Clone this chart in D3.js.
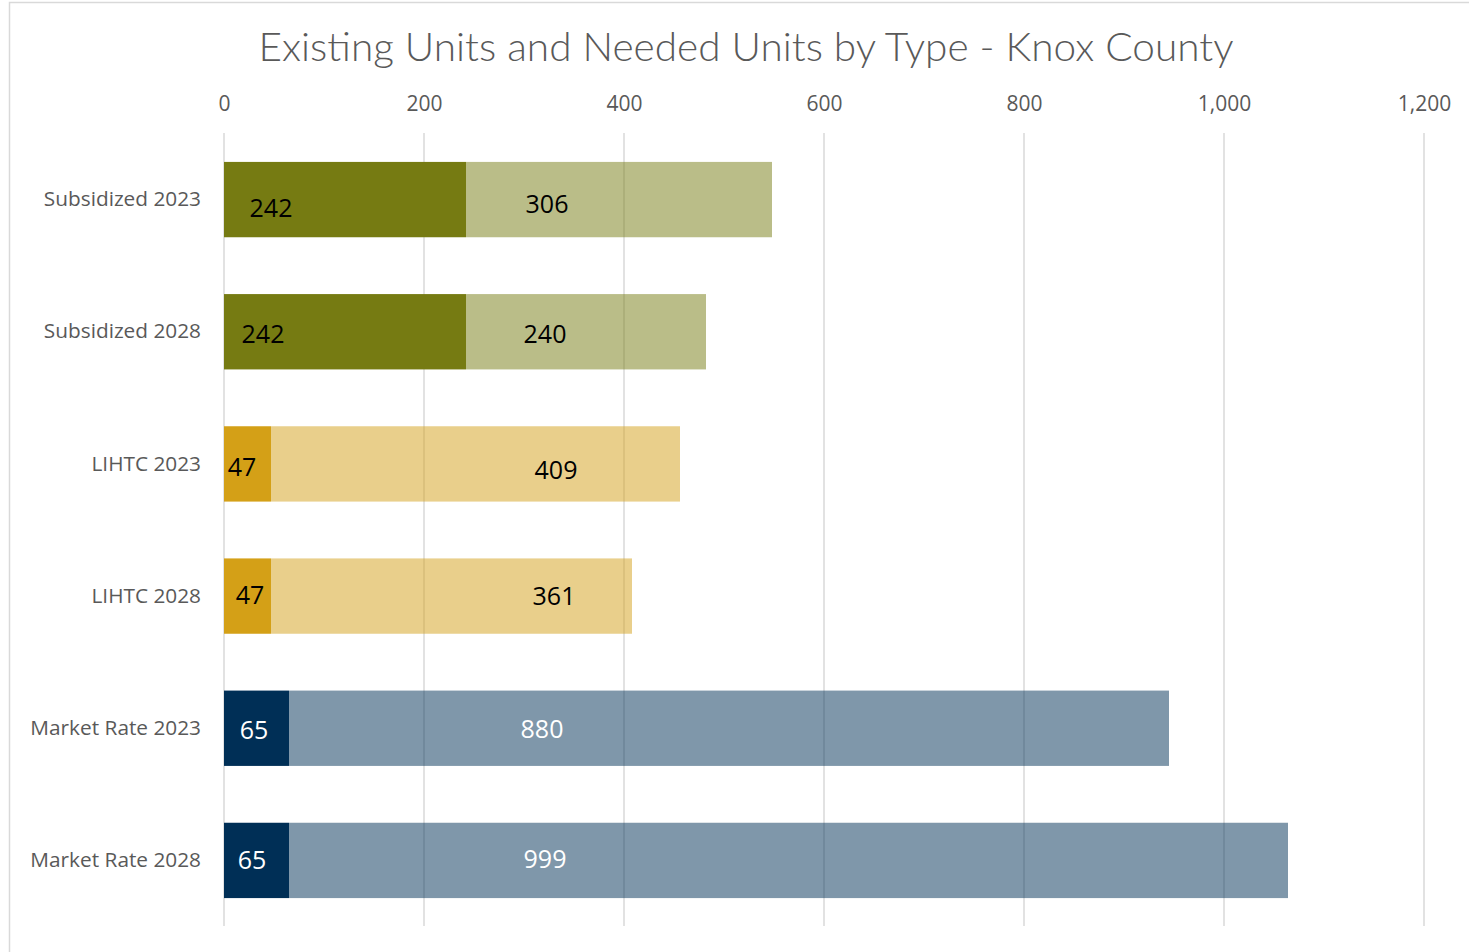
<!DOCTYPE html>
<html><head><meta charset="utf-8">
<script src="https://cdn.jsdelivr.net/npm/d3@7"></script>
<style>
html,body{margin:0;padding:0;background:#fff;}
svg{display:block;}
</style></head>
<body>
<svg id="chart" width="1469" height="952"></svg>
<script>
// ---- data ----
const categories = ["Subsidized 2023","Subsidized 2028","LIHTC 2023","LIHTC 2028","Market Rate 2023","Market Rate 2028"];
const existingUnits = [242, 242, 47, 47, 65, 65];
const neededUnits = [306, 240, 409, 361, 880, 999];
const tickValues = [0, 200, 400, 600, 800, 1000, 1200];
const chartTitle = "Existing Units and Needed Units by Type - Knox County";

// ---- layout / style (not data) ----
const baseColors = ["#767B12","#767B12","#D4A017","#D4A017","#002F56","#002F56"];
const neededTextColors = ["#000","#000","#000","#000","#fff","#fff"];
const existingTextColors = ["#000","#000","#000","#000","#fff","#fff"];
// manual label anchors (in value units) as placed in the original
const existingLabelAt = [47, 39, 18, 26, 30, 28];
const neededLabelAt = [323, 321, 332, 330, 318, 321];
const existingLabelDy = [8, 2, 3, -1, 2, 0];
const neededLabelDy = [4, 2, 6, 0, 1, -1];

const svg = d3.select("#chart");

// frame
svg.append("rect").attr("x",9.5).attr("y",2.5).attr("width",1600).attr("height",1200)
  .attr("fill","#fff").attr("stroke","#d9d9d9").attr("stroke-width",1.5);

const x = d3.scaleLinear().domain([0,1200]).range([224,1424]);
const y = d3.scaleBand().domain(categories).range([133.5, 926.5]).paddingInner(0.43).paddingOuter(0.215);

// title
svg.append("text").attr("x",746).attr("y",61)
  .attr("text-anchor","middle")
  .attr("font-family","Lato, 'Open Sans', sans-serif").attr("font-weight",300)
  .attr("font-size",39).attr("fill","#595959")
  .attr("textLength",975).attr("lengthAdjust","spacingAndGlyphs")
  .text(chartTitle);

// gridlines
const grid = svg.append("g");
grid.selectAll("line").data(tickValues).join("line")
  .attr("x1",d=>x(d)).attr("x2",d=>x(d))
  .attr("y1",133).attr("y2",926)
  .attr("stroke","#d9d9d9").attr("stroke-width",1.5);

// top axis
const axis = d3.axisTop(x).tickValues(tickValues).tickSize(0).tickPadding(0)
  .tickFormat(d3.format(","));
const ax = svg.append("g").attr("transform","translate(0,111)").call(axis);
ax.select(".domain").remove();
ax.selectAll("text").attr("font-family","'Open Sans', 'Noto Sans', sans-serif")
  .attr("font-size",21).attr("fill","#595959");

// category axis
const yAxis = d3.axisLeft(y).tickSize(0).tickPadding(23);
const ay = svg.append("g").attr("transform","translate(224,0)").call(yAxis);
ay.select(".domain").remove();
ay.selectAll("text").attr("font-family","'Open Sans', 'Noto Sans', sans-serif")
  .attr("font-size",20.8).attr("fill","#595959");

const rows = categories.map((c,i)=>({c, i, e:existingUnits[i], n:neededUnits[i]}));

// bars
const bars = svg.append("g");
bars.selectAll("rect.ex").data(rows).join("rect").attr("class","ex")
  .attr("x",d=>x(0)).attr("y",d=>y(d.c))
  .attr("width",d=>x(d.e)-x(0)).attr("height",y.bandwidth())
  .attr("fill",d=>baseColors[d.i]);
bars.selectAll("rect.ne").data(rows).join("rect").attr("class","ne")
  .attr("x",d=>x(d.e)).attr("y",d=>y(d.c))
  .attr("width",d=>x(d.e+d.n)-x(d.e)).attr("height",y.bandwidth())
  .attr("fill",d=>baseColors[d.i]).attr("fill-opacity",0.5);

// labels
const lab = svg.append("g").attr("font-family","'Open Sans', 'Noto Sans', sans-serif")
  .attr("font-size",25).attr("text-anchor","middle");
lab.selectAll("text.ex").data(rows).join("text").attr("class","ex")
  .attr("x",d=>x(existingLabelAt[d.i]))
  .attr("y",d=>y(d.c)+y.bandwidth()/2+existingLabelDy[d.i])
  .attr("dy","0.36em")
  .attr("fill",d=>existingTextColors[d.i]).text(d=>d.e);
lab.selectAll("text.ne").data(rows).join("text").attr("class","ne")
  .attr("x",d=>x(neededLabelAt[d.i]))
  .attr("y",d=>y(d.c)+y.bandwidth()/2+neededLabelDy[d.i])
  .attr("dy","0.36em")
  .attr("fill",d=>neededTextColors[d.i]).text(d=>d.n);
</script>
</body></html>
